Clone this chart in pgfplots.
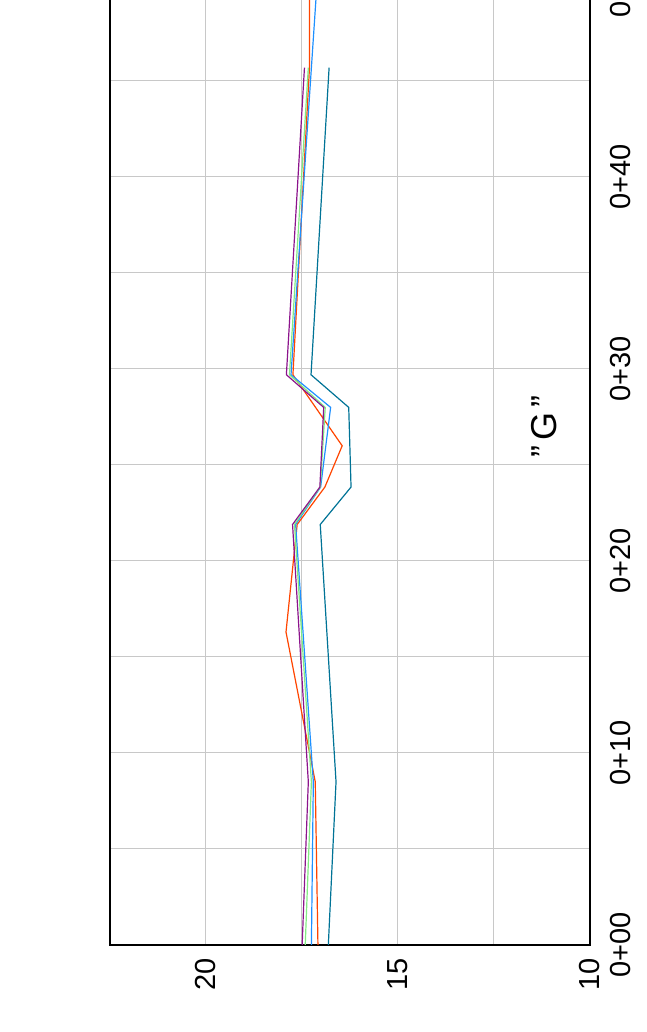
\documentclass[border=0pt]{standalone}
\usepackage{fontspec}
\setmainfont{Liberation Sans}
\usepackage{pgfplots}
\pgfplotsset{compat=1.18}
\definecolor{cpurple}{RGB}{140,20,140}
\definecolor{cgreen}{RGB}{130,235,130}
\definecolor{cblue}{RGB}{30,144,255}
\definecolor{corange}{RGB}{255,69,0}
\definecolor{cteal}{RGB}{0,115,150}
\definecolor{cgrid}{RGB}{200,200,200}
\begin{document}
\begin{tikzpicture}[x=1pt,y=1pt]
\useasboundingbox (0,0) rectangle (646,1032);
\clip (0,0) rectangle (646,1032);
\begin{axis}[
  at={(110pt,87pt)}, anchor=south west,
  scale only axis, width=480pt, height=998.4pt,
  x dir=reverse,
  xmin=10, xmax=22.474,
  ymin=0, ymax=52,
  xtick={10,15,20}, xticklabels={10,15,20},
  minor xtick={12.5,17.5},
  ytick={0,10,20,30,40,50},
  yticklabels={0+00,0+10,0+20,0+30,0+40,0+50},
  minor ytick={5,15,25,35,45},
  grid=both,
  grid style={cgrid, line width=1pt},
  minor grid style={cgrid, line width=1pt},
  major tick length=0pt, minor tick length=0pt,
  axis line style={black, line width=1.5pt},
  yticklabel pos=right,
  ticklabel style={font=\fontsize{29}{30}\selectfont, inner sep=0pt, outer sep=0pt},
  xticklabel style={rotate=90, anchor=east},
  yticklabel style={rotate=90, anchor=north},
  xticklabel shift={13pt},
  yticklabel shift={20pt},
  clip=true,
]
\addplot[cteal, line width=1.2pt] coordinates {
 (16.80,0) (16.60,8.5) (17.01,21.9) (16.21,23.85) (16.27,28) (17.25,29.7) (16.78,45.7)};
\addplot[corange, line width=1.2pt] coordinates {
 (17.07,0) (17.14,8.5) (17.90,16.3) (17.61,21.9) (16.89,23.85) (16.44,26) (17.72,29.7) (17.29,45.7) (17.29,52)};
\addplot[cblue, line width=1.2pt] coordinates {
 (17.24,0) (17.19,8.5) (17.65,21.9) (17.00,23.85) (16.74,28) (17.77,29.7) (17.24,45.7) (17.03,52)};
\addplot[cgreen, line width=1.2pt] coordinates {
 (17.40,0) (17.24,8.5) (17.68,21.9) (17.01,23.85) (16.88,28) (17.81,29.7) (17.32,45.7)};
\addplot[cpurple, line width=1.2pt] coordinates {
 (17.48,0) (17.32,8.5) (17.73,21.9) (17.02,23.85) (16.92,28) (17.89,29.7) (17.42,45.7)};
\node[rotate=90, font=\fontsize{36}{38}\selectfont] at (axis cs:11.2,27.0) {''\hspace{5pt}G\hspace{5pt}''};
\end{axis}
\end{tikzpicture}
\end{document}
